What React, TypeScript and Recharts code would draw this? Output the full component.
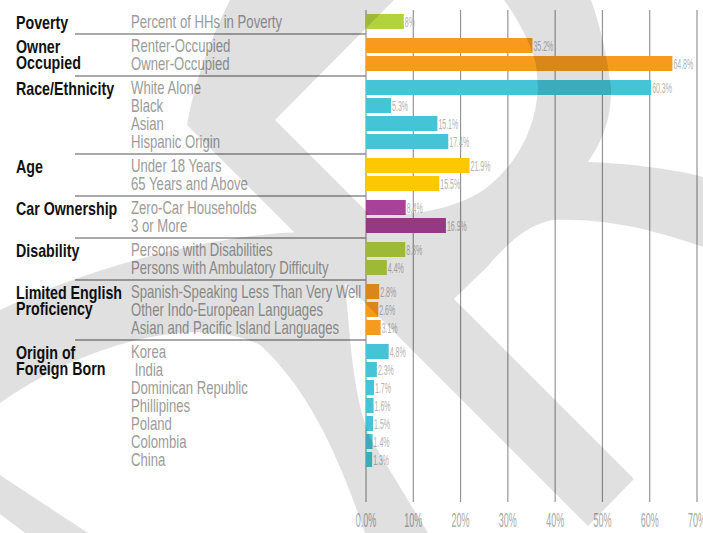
import { BarChart, Bar, XAxis, YAxis, CartesianGrid, Cell, LabelList } from "recharts";

// group headings (one array entry per line) and their bar colours
const groupNames = [
  ["Poverty"],
  ["Owner", "Occupied"],
  ["Race/Ethnicity"],
  ["Age"],
  ["Car Ownership"],
  ["Disability"],
  ["Limited English", "Proficiency"],
  ["Origin of", "Foreign Born"],
];
const groupColors = ["#b3d33d", "#f79a1e", "#44c4d6", "#fec800", "#aa4198", "#b3d33d", "#f79a1e", "#44c4d6"];

const itemLabels = [
  "Percent of HHs in Poverty",
  "Renter-Occupied",
  "Owner-Occupied",
  "White Alone",
  "Black",
  "Asian",
  "Hispanic Origin",
  "Under 18 Years",
  "65 Years and Above",
  "Zero-Car Households",
  "3 or More",
  "Persons with Disabilities",
  "Persons with Ambulatory Difficulty",
  "Spanish-Speaking Less Than Very Well",
  "Other Indo-European Languages",
  "Asian and Pacific Island Languages",
  "Korea",
  " India",
  "Dominican Republic",
  "Phillipines",
  "Poland",
  "Colombia",
  "China",
];
const itemValues = [8, 35.2, 64.8, 60.3, 5.3, 15.1, 17.4, 21.9, 15.5, 8.4, 16.9, 8.3, 4.4, 2.8, 2.6, 3.1, 4.8, 2.3, 1.7, 1.6, 1.5, 1.4, 1.3];
const itemGroups = [0, 1, 1, 2, 2, 2, 2, 3, 3, 4, 4, 5, 5, 6, 6, 6, 7, 7, 7, 7, 7, 7, 7];

const xTicks = [0, 10, 20, 30, 40, 50, 60, 70];

// rows sit on a numeric axis; each new group adds a third of a row as spacing
const GROUP_GAP = 1 / 3;
const data = itemLabels.map((label, i) => ({
  label,
  value: itemValues[i],
  group: itemGroups[i],
  slot: i + itemGroups[i] * GROUP_GAP,
  first: i === 0 || itemGroups[i - 1] !== itemGroups[i],
}));

const FONT = "'Liberation Sans', Arial, sans-serif";

function RowTick(props: any) {
  const { y, payload } = props;
  const row = data.find((d) => Math.abs(d.slot - payload.value) < 1e-6);
  if (!row) return null;
  const lines = groupNames[row.group];
  return (
    <g fontFamily={FONT}>
      {row.first && row.group > 0 && (
        <line x1={75} x2={366} y1={y - 12} y2={y - 12} stroke="#8c8c8c" strokeWidth={1.3} />
      )}
      {row.first && (
        <text transform={`translate(16,${y + 6.5}) scale(0.75,1)`} fontSize={19} fontWeight="bold" fill="#111">
          {lines.map((l, k) => (
            <tspan key={k} x={0} y={k * 17}>
              {l}
            </tspan>
          ))}
        </text>
      )}
      <text
        transform={`translate(131,${y + 6.3}) scale(0.73,1)`}
        fontSize={18}
        fill="#9b9b9b"
        style={{ whiteSpace: "pre" }}
      >
        {row.label}
      </text>
    </g>
  );
}

function PctTick(props: any) {
  const { x, y, payload } = props;
  const v = payload.value;
  return (
    <text
      transform={`translate(${x},${y + 25}) scale(0.45,1)`}
      textAnchor="middle"
      fontSize={20}
      fontFamily={FONT}
      fill="#a8a8a8"
    >
      {v === 0 ? "0.0%" : `${v}%`}
    </text>
  );
}

function ValueLabel(props: any) {
  const { x, y, width, height, value } = props;
  return (
    <text
      transform={`translate(${x + width + 1},${y + height / 2 + 5}) scale(0.5,1)`}
      fontSize={14}
      fontFamily={FONT}
      fill="#b3b3b3"
    >
      {value}%
    </text>
  );
}

// light grey logo behind the chart (drawn over it, like the original)
function Watermark() {
  return (
    <svg width={703} height={533} style={{ position: "absolute", left: 0, top: 0, pointerEvents: "none" }}>
      <g opacity={0.12} fill="#000">
        <path d="M230,0 L394,0 L275,120 L370,215 C410,216 460,210 490,185 C520,160 536,125 538,88 L536,64 C530,40 515,15 504,0 L591,0 C600,25 607,55 611,88 C612,120 600,145 588,162 C620,163 670,168 703,177 L703,247 C660,232 610,218 553,220 C530,224 510,240 488,266 L454,299 L634,479 L588,526 L187,125 C195,80 210,40 230,0 Z M0,310 C100,262 220,235 300,232 L345,283 C350,330 352,400 372,441 L428,533 L365,533 C340,460 310,390 260,345 C200,315 90,340 0,403 Z M0,475 L88,533 L25,533 L0,514 Z" />
      </g>
    </svg>
  );
}

export default function App() {
  return (
    <div style={{ position: "absolute", left: 0, top: 0, width: 703, height: 533, background: "#fff" }}>
      <BarChart
        width={703}
        height={533}
        data={data}
        layout="vertical"
        margin={{ top: 10, right: 6, bottom: 0, left: 0 }}
      >
        <CartesianGrid horizontal={false} stroke="#959595" strokeWidth={1.2} />
        <XAxis
          type="number"
          domain={[0, 70]}
          ticks={xTicks}
          interval={0}
          axisLine={false}
          tickLine={false}
          tickSize={0}
          tickMargin={0}
          height={31}
          tick={<PctTick />}
        />
        <YAxis
          type="number"
          dataKey="slot"
          domain={[-2 / 3, 26 + 2 / 3]}
          allowDataOverflow
          ticks={data.map((d) => d.slot)}
          interval={0}
          axisLine={false}
          tickLine={false}
          width={366}
          tick={<RowTick />}
        />
        <Bar dataKey="value" barSize={15} isAnimationActive={false}>
          {data.map((d, i) => (
            <Cell key={i} fill={groupColors[d.group]} />
          ))}
          <LabelList dataKey="value" content={<ValueLabel />} />
        </Bar>
      </BarChart>
      <Watermark />
    </div>
  );
}
